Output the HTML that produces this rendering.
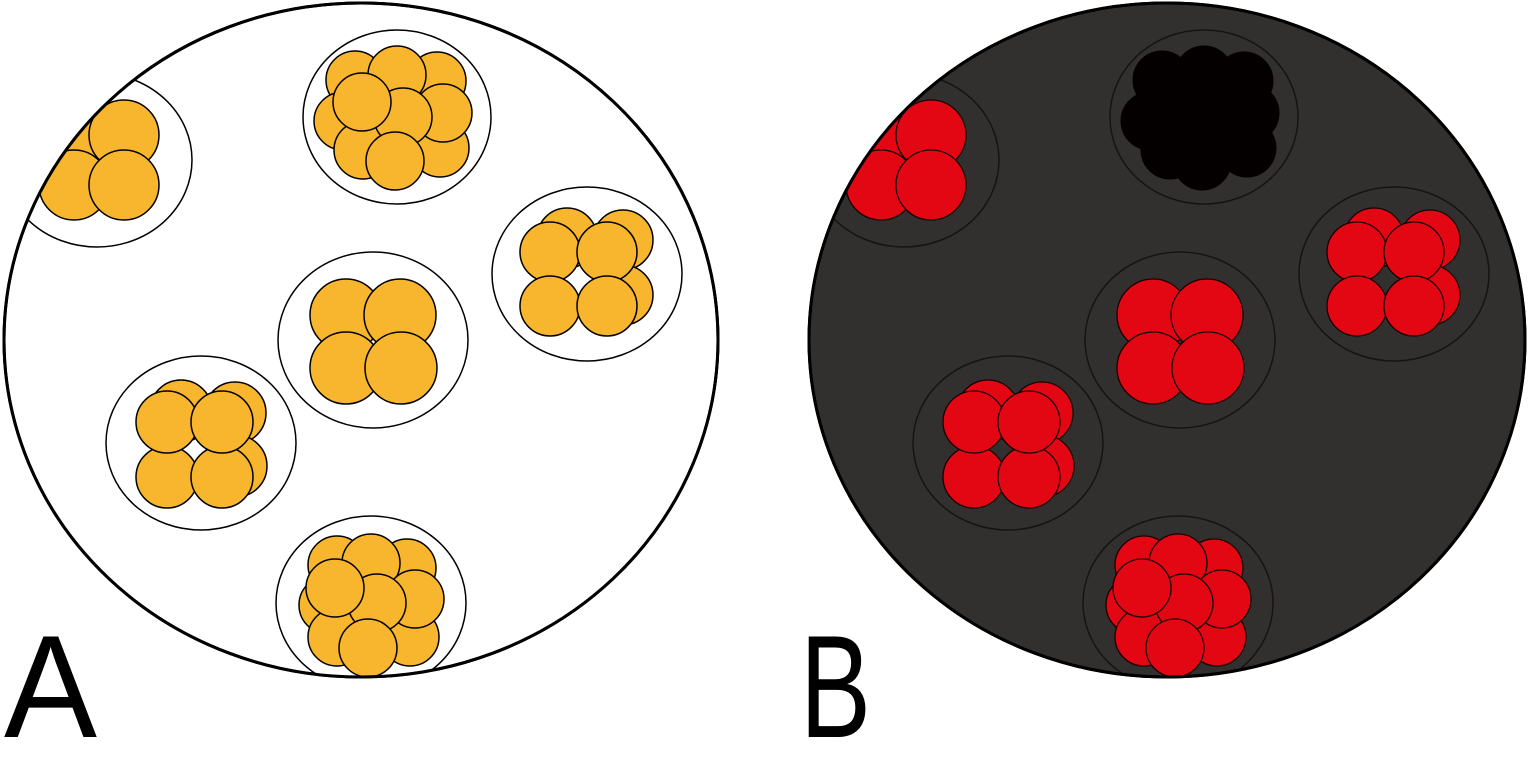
<!DOCTYPE html>
<html><head><meta charset="utf-8"><style>html,body{margin:0;padding:0;background:#fff}svg{display:block}</style></head>
<body>
<svg width="1528" height="775" viewBox="0 0 1528 775" xmlns="http://www.w3.org/2000/svg">
<defs>
  <clipPath id="cA"><ellipse cx="361" cy="340" rx="357" ry="337"/></clipPath>
  <clipPath id="cB"><ellipse cx="1167" cy="340" rx="358" ry="337"/></clipPath>
  <g id="tl">
    <circle cx="74" cy="138" r="35"/><circle cx="74" cy="185" r="35"/>
    <circle cx="124" cy="135" r="35"/><circle cx="124" cy="185" r="35"/>
  </g>
  <g id="top">
    <circle cx="355" cy="80" r="29"/><circle cx="437" cy="81" r="29"/>
    <circle cx="343" cy="121" r="29"/><circle cx="363" cy="150" r="29"/><circle cx="440" cy="148" r="29"/>
    <circle cx="397" cy="75" r="29"/><circle cx="443" cy="113" r="29"/><circle cx="403" cy="117" r="29"/>
    <circle cx="395" cy="161" r="29"/><circle cx="362" cy="102" r="29"/>
  </g>
  <g id="right">
    <circle cx="567" cy="238" r="30"/><circle cx="623" cy="240" r="30"/><circle cx="623" cy="295" r="30"/>
    <circle cx="550" cy="252" r="30"/><circle cx="607" cy="252" r="30"/>
    <circle cx="550" cy="306" r="30"/><circle cx="607" cy="306" r="30"/>
  </g>
  <g id="mid">
    <circle cx="346" cy="315" r="36"/><circle cx="400" cy="315" r="36"/>
    <circle cx="346" cy="368" r="36"/><circle cx="401" cy="368" r="36"/>
  </g>
  <g id="left">
    <circle cx="181" cy="411" r="31"/><circle cx="235" cy="413" r="31"/><circle cx="236" cy="466" r="31"/>
    <circle cx="167" cy="477" r="31"/><circle cx="222" cy="477" r="31"/>
    <circle cx="167" cy="422" r="31"/><circle cx="222" cy="422" r="31"/>
  </g>
  <g id="bot">
    <circle cx="337" cy="565" r="29"/><circle cx="407" cy="568" r="29"/>
    <circle cx="328" cy="605" r="29"/><circle cx="337" cy="637" r="29"/><circle cx="410" cy="637" r="29"/>
    <circle cx="371" cy="563" r="29"/><circle cx="415" cy="599" r="29"/><circle cx="377" cy="603" r="29"/>
    <circle cx="368" cy="648" r="29"/><circle cx="335" cy="588" r="29"/>
  </g>
</defs>

<ellipse cx="361" cy="340" rx="357" ry="337" fill="#fff" stroke="#000" stroke-width="3"/>
<g clip-path="url(#cA)" stroke="#000" stroke-width="1.5">
  <ellipse cx="97" cy="160" rx="95" ry="87" fill="#fff"/>
  <ellipse cx="397" cy="117" rx="94" ry="87" fill="#fff"/>
  <ellipse cx="587" cy="274" rx="95" ry="87" fill="#fff"/>
  <ellipse cx="373" cy="340" rx="95" ry="88" fill="#fff"/>
  <ellipse cx="201" cy="443" rx="95" ry="87" fill="#fff"/>
  <ellipse cx="371" cy="603" rx="95" ry="87" fill="#fff"/>
  <g fill="#f8b62f">
    <use href="#tl"/><use href="#top"/><use href="#right"/><use href="#mid"/><use href="#left"/><use href="#bot"/>
  </g>
</g>
<ellipse cx="361" cy="340" rx="357" ry="337" fill="none" stroke="#000" stroke-width="3"/>

<ellipse cx="1167" cy="340" rx="358" ry="337" fill="#32302e" stroke="#000" stroke-width="3"/>
<g clip-path="url(#cB)">
  <g transform="translate(807,0)" fill="none" stroke="#141414" stroke-width="1.5">
    <ellipse cx="97" cy="160" rx="95" ry="87"/>
    <ellipse cx="397" cy="117" rx="94" ry="87"/>
    <ellipse cx="587" cy="274" rx="95" ry="87"/>
    <ellipse cx="373" cy="340" rx="95" ry="88"/>
    <ellipse cx="201" cy="443" rx="95" ry="87"/>
    <ellipse cx="371" cy="603" rx="95" ry="87"/>
  </g>
  <g transform="translate(807,0)" fill="#e30613" stroke="#1a0000" stroke-width="1.3">
    <use href="#tl"/><use href="#right"/><use href="#mid"/><use href="#left"/><use href="#bot"/>
  </g>
  <g transform="translate(807,0)" fill="#050000" stroke="#050000" stroke-width="1">
    <use href="#top"/>
  </g>
</g>
<ellipse cx="1167" cy="340" rx="358" ry="337" fill="none" stroke="#000" stroke-width="3"/>

<text x="4" y="737" font-family="Liberation Sans, sans-serif" font-size="146" fill="#000" textLength="93" lengthAdjust="spacingAndGlyphs">A</text>
<text x="800" y="737" font-family="Liberation Sans, sans-serif" font-size="146" fill="#000" textLength="71" lengthAdjust="spacingAndGlyphs">B</text>
</svg>
</body></html>
